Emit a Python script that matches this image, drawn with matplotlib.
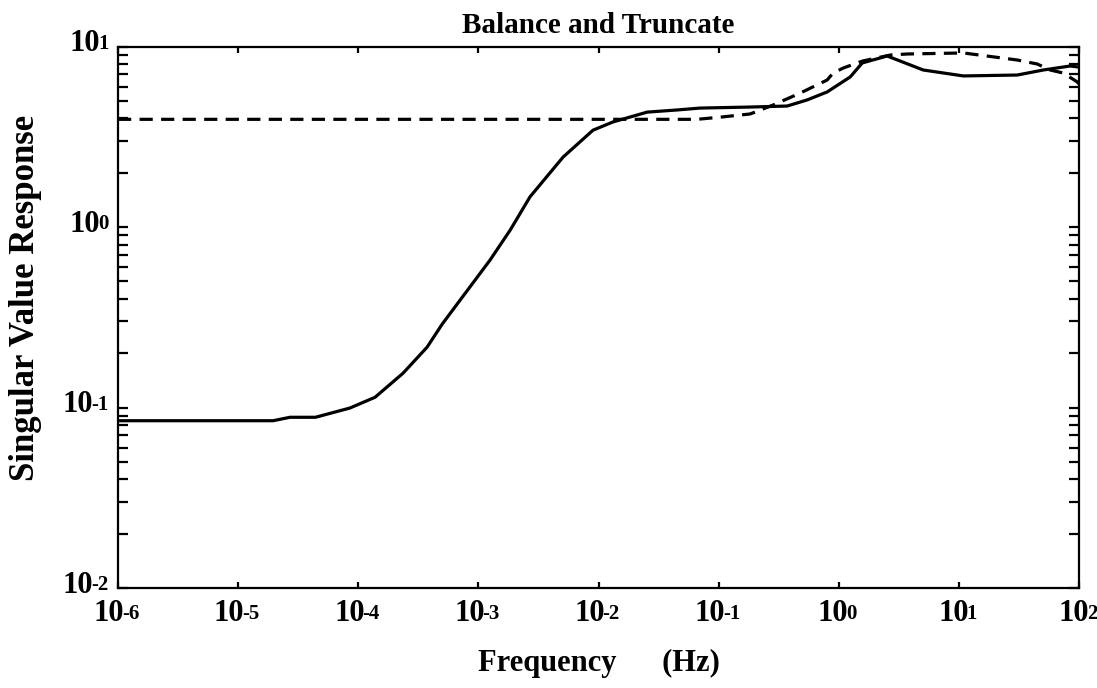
import matplotlib
matplotlib.use("Agg")
import matplotlib.pyplot as plt
from matplotlib.ticker import LogLocator, NullLocator
from matplotlib.offsetbox import TextArea, HPacker, VPacker, DrawingArea, AnnotationBbox

# singular value response, full order model (solid) and truncated model (dashed)
freq_full = [1e-6, 1.95e-5, 2.7e-5, 4.4e-5, 8.5e-5, 1.38e-4, 2.36e-4, 3.74e-4,
             5.0e-4, 7.05e-4, 1.25e-3, 1.84e-3, 2.69e-3, 5.07e-3, 9.0e-3,
             1.32e-2, 2.54e-2, 4.5e-2, 7.0e-2, 0.183, 0.372, 0.546, 0.80,
             1.245, 1.57, 2.53, 5.05, 10.9, 30.6, 50.4, 84.5, 100.0]
sv_full = [0.0845, 0.0845, 0.0883, 0.0883, 0.0993, 0.114, 0.155, 0.216,
           0.29, 0.394, 0.656, 0.962, 1.47, 2.44, 3.44, 3.82, 4.33, 4.45,
           4.56, 4.62, 4.68, 5.06, 5.60, 6.78, 8.11, 8.86, 7.41, 6.87,
           6.95, 7.41, 7.80, 7.69]

freq_trunc = [1e-6, 6.6e-2, 0.103, 0.183, 0.284, 0.477, 0.80, 0.897, 1.09,
              1.57, 2.68, 3.72, 10.9, 30.6, 44.9, 57.5, 74.0, 96.8, 100.0]
sv_trunc = [3.95, 3.95, 4.06, 4.23, 4.74, 5.52, 6.52, 7.13, 7.60, 8.30,
            8.97, 9.09, 9.21, 8.42, 8.00, 7.41, 7.13, 6.36, 6.2]

x_decades = [-6, -5, -4, -3, -2, -1, 0, 1, 2]
y_decades = [-2, -1, 0, 1]

plt.rcParams['font.family'] = 'Liberation Serif'
plt.rcParams['font.weight'] = 'bold'
plt.rcParams['lines.scale_dashes'] = False

fig = plt.figure(figsize=(10.97, 6.88), dpi=100)
ax = fig.add_axes([0.1076, 0.1453, 0.876, 0.7871])

ax.plot(freq_full, sv_full, color='black', linewidth=2.3)
ax.plot(freq_trunc, sv_trunc, color='black', linewidth=2.3, dashes=(9.5, 6))

ax.set_xscale('log')
ax.set_yscale('log')
ax.set_xlim(1e-6, 1e2)
ax.set_ylim(1e-2, 1e1)

ax.xaxis.set_major_locator(LogLocator(base=10, numticks=20))
ax.xaxis.set_minor_locator(NullLocator())
ax.yaxis.set_major_locator(LogLocator(base=10, numticks=20))
ax.yaxis.set_minor_locator(LogLocator(base=10, subs=range(2, 10), numticks=20))

ax.tick_params(axis='both', which='both', direction='in', top=True, right=True,
               width=1.6, labelbottom=False, labelleft=False)
ax.tick_params(axis='x', which='major', length=4)
ax.tick_params(axis='y', which='both', length=7.5)
for s in ax.spines.values():
    s.set_linewidth(1.6)


def power_label(e):
    # "10" followed by a smaller exponent, only slightly raised
    base = TextArea("10", textprops=dict(fontsize=22, fontweight='bold'))
    sup = TextArea("%d" % e, textprops=dict(fontsize=15, fontweight='bold'))
    lifted = VPacker(children=[sup, DrawingArea(0, 3.3)], pad=0, sep=0)
    return HPacker(children=[base, lifted], align='bottom', pad=0, sep=-1.5)


for e in x_decades:
    ab = AnnotationBbox(power_label(e), (10.0 ** e, 0),
                        xycoords=('data', 'axes fraction'),
                        xybox=(-1, -8), boxcoords='offset points',
                        box_alignment=(0.5, 1), frameon=False, pad=0,
                        annotation_clip=False)
    ax.add_artist(ab)

for e in y_decades:
    ab = AnnotationBbox(power_label(e), (0, 10.0 ** e),
                        xycoords=('axes fraction', 'data'),
                        xybox=(-7, 2), boxcoords='offset points',
                        box_alignment=(1, 0.5), frameon=False, pad=0,
                        annotation_clip=False)
    ax.add_artist(ab)

ax.set_title("Balance and Truncate", fontsize=21, fontweight='bold', pad=10)
ax.set_xlabel("Frequency      (Hz)", fontsize=22, fontweight='bold')
ax.set_ylabel("Singular Value Response", fontsize=25, fontweight='bold')
ax.xaxis.set_label_coords(0.5, -0.112)
ax.yaxis.set_label_coords(-0.079, 0.5355)

fig.savefig("out.png", dpi=100)
